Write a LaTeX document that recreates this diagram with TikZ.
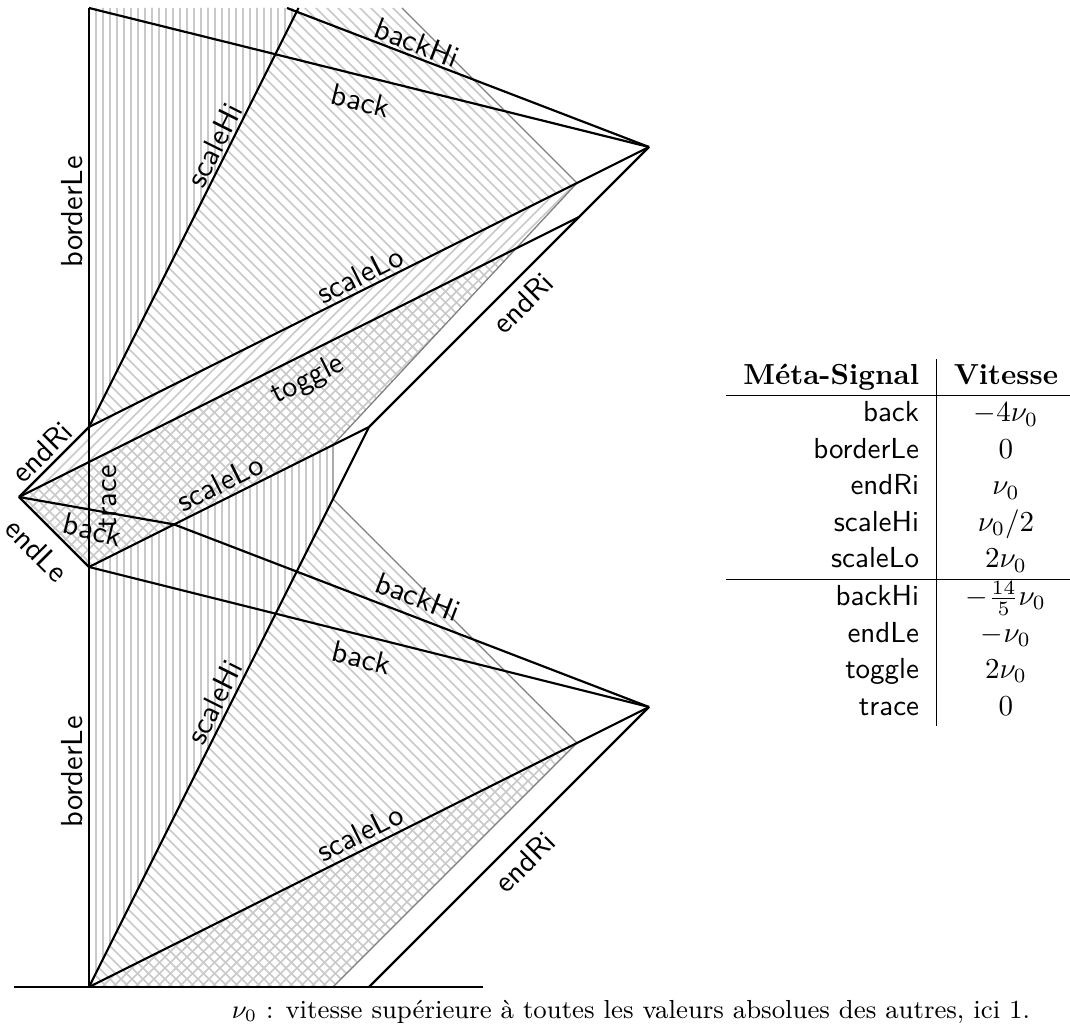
\documentclass[tikz,border=0pt]{standalone}
\usepackage{fontspec}
\newcommand\hatchV{\foreach \i in {96,103,...,700} \draw[hl] (\i,0) -- (\i,1000);}
\newcommand\hatchD{\foreach \i in {-1100,-1089,...,700} \draw[hl] (\i,0) -- ++(1000,1000);}
\newcommand\hatchS{\foreach \i in {0,11,...,1800} \draw[hl] (\i,0) -- ++(-1000,1000);}
\begin{document}
\begin{tikzpicture}[x=0.345pt,y=-0.345pt,
  sig/.style={line width=0.75pt, black},
  bnd/.style={line width=0.45pt, black!50},
  hl/.style={line width=0.5pt, black!21},
  lab/.style={font=\sffamily\fontsize{10.5}{12}\selectfont, inner sep=0pt}]
\useasboundingbox (0,0) rectangle (1070,1030);
% key points
\coordinate (O) at (89,987);
\coordinate (BL) at (14,987);
\coordinate (BR) at (483,987);
\coordinate (R0) at (369,987);
\coordinate (A1) at (649,707);
\coordinate (P) at (89,567);
\coordinate (E) at (19,497);
\coordinate (Q) at (89,427);
\coordinate (R1) at (369,427);
\coordinate (A2) at (649,147);
\coordinate (K) at (174,524.4);
\coordinate (T1) at (579,217);
\coordinate (Ttop) at (89,8);
\coordinate (Htop) at (298.5,8);
\coordinate (BHtop) at (287,8);
% content boundaries
\coordinate (G0) at (333,987);
\coordinate (G1) at (577,743);
\coordinate (G2) at (333,499);
\coordinate (G3) at (333,445);
\coordinate (G1u) at (577,183);
\coordinate (Gtop) at (402,8);
\coordinate (Ti) at (intersection of E--T1 and G1u--G3);
% hatching
\begin{scope}\clip (O) -- (G2) -- (G3) -- (P) -- cycle; \hatchV \end{scope}
\begin{scope}\clip (Q) -- (Htop) -- (Ttop) -- cycle; \hatchV \end{scope}
\begin{scope}\clip (O) -- (G2) -- (G1) -- (G0) -- cycle; \hatchD \end{scope}
\begin{scope}\clip (Q) -- (Htop) -- (Gtop) -- (G1u) -- cycle; \hatchD \end{scope}
\begin{scope}\clip (E) -- (Ti) -- (G3) -- (P) -- cycle; \hatchD \end{scope}
\begin{scope}\clip (O) -- (G1) -- (G0) -- cycle; \hatchS \end{scope}
\begin{scope}\clip (E) -- (Q) -- (G1u) -- (G3) -- (P) -- cycle; \hatchS \end{scope}
% gray boundaries
\draw[bnd] (G0) -- (G1) -- (G2) -- (G3);
\draw[bnd] (Gtop) -- (G1u) -- (G3);
% signals
\draw[sig] (BL) -- (BR);
\draw[sig] (O) -- (Ttop);
\draw[sig] (O) -- (R1);
\draw[sig] (O) -- (A1);
\draw[sig] (R0) -- (A1);
\draw[sig] (A1) -- (P);
\draw[sig] (A1) -- (K) -- (E);
\draw[sig] (P) -- (E);
\draw[sig] (E) -- (Q);
\draw[sig] (E) -- (T1);
\draw[sig] (P) -- (R1);
\draw[sig] (R1) -- (A2);
\draw[sig] (Q) -- (A2);
\draw[sig] (Q) -- (Htop);
\draw[sig] (A2) -- (Ttop);
\draw[sig] (A2) -- (BHtop);
% labels
\node[lab, rotate=90] (lbu) at (72,212) {borderLe};
\node[lab, rotate=90] (lbl) at (72,772) {borderLe};
\node[lab, rotate=63.4] (lshu) at (214,145) {scaleHi};
\node[lab, rotate=63.4] (lshl) at (214,702) {scaleHi};
\node[lab, rotate=-14] (lbku) at (361,101) {back};
\node[lab, rotate=-21] (lbhu) at (417,43) {backHi};
\node[lab, rotate=26.6] (lslu) at (360,275) {scaleLo};
\node[lab, rotate=45] (leru) at (523,303) {endRi};
\node[lab, rotate=26.6] (ltg) at (308,380) {toggle};
\node[lab, rotate=45] (lerm) at (42,452) {endRi};
\node[lab, rotate=-45] (lel) at (37,550) {endLe};
\node[lab, rotate=90] (ltr) at (108,497) {trace};
\node[lab, rotate=-14] (lbkm) at (93,530) {back};
\node[lab, rotate=26.6] (lslm) at (220,483) {scaleLo};
\node[lab, rotate=-21] (lbhl) at (418,597) {backHi};
\node[lab, rotate=-14] (lbkl) at (362,658) {back};
\node[lab, rotate=26.6] (lsll) at (360,833) {scaleLo};
\node[lab, rotate=45] (lerl) at (525,862) {endRi};
% table
\node[anchor=north east, inner sep=0pt] (tab) at (1076,358) {%
\renewcommand\arraystretch{1.05}%
\begin{tabular}{r|c}
\textbf{Méta-Signal} & \textbf{Vitesse}\\ \hline
\textsf{back} & $-4\nu_0$\\
\textsf{borderLe} & $0$\\
\textsf{endRi} & $\nu_0$\\
\textsf{scaleHi} & $\nu_0/2$\\
\textsf{scaleLo} & $2\nu_0$\\ \hline
\textsf{backHi} & $-\frac{14}{5}\nu_0$\\
\textsf{endLe} & $-\nu_0$\\
\textsf{toggle} & $2\nu_0$\\
\textsf{trace} & $0$
\end{tabular}};
\node[font=\fontsize{9}{11}\selectfont] (cap) at (631,1012) {$\nu_0$ : vitesse supérieure à toutes les valeurs absolues des autres, ici 1.};
\end{tikzpicture}
\end{document}
